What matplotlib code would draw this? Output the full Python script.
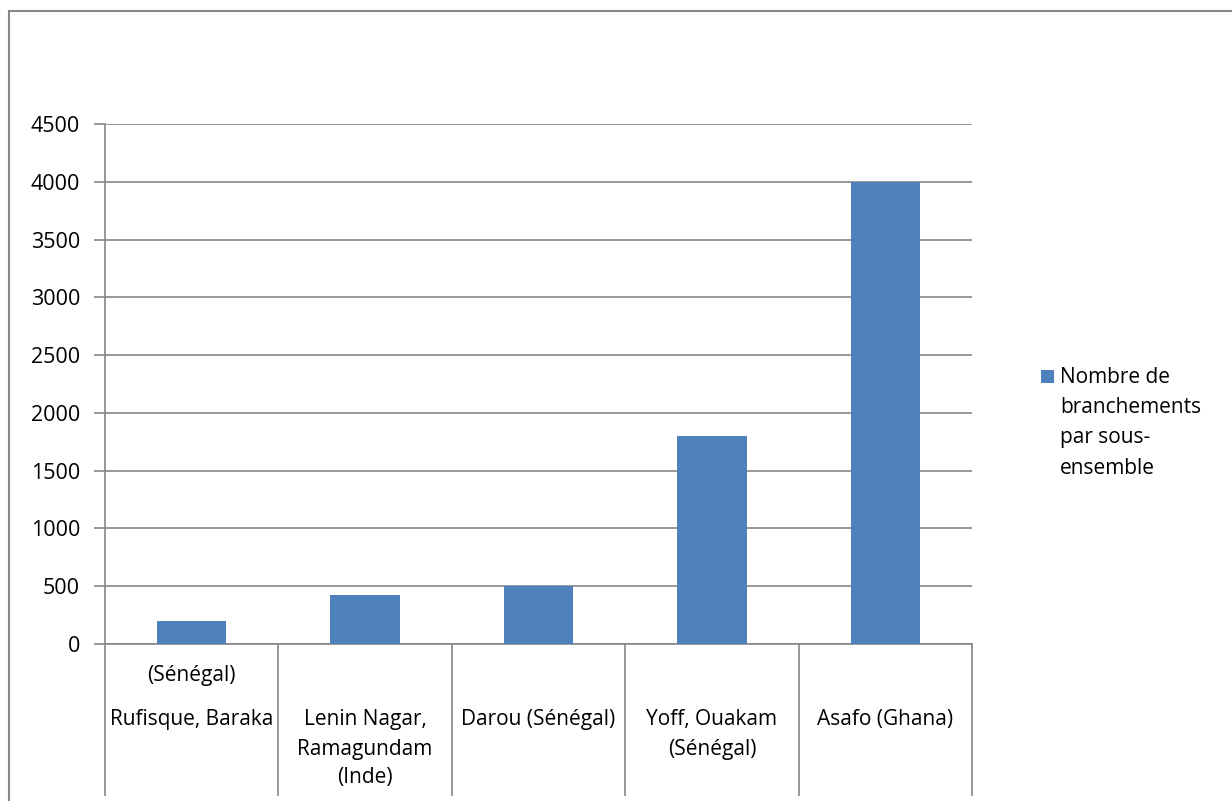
import matplotlib.pyplot as plt
from matplotlib.patches import Rectangle
import matplotlib.transforms as mtransforms

plt.rcParams["font.family"] = ["Open Sans", "DejaVu Sans"]

# data
categories = [
    ["Rufisque, Baraka", "(Sénégal)"],
    ["Lenin Nagar,", "Ramagundam", "(Inde)"],
    ["Darou (Sénégal)"],
    ["Yoff, Ouakam", "(Sénégal)"],
    ["Asafo (Ghana)"],
]
values = [200, 420, 500, 1800, 4000]
yticks = [0, 500, 1000, 1500, 2000, 2500, 3000, 3500, 4000, 4500]
series_name = ["Nombre de", "branchements", "par sous-", "ensemble"]

bar_color = "#4F81BD"
grid_color = "#868686"
W, H = 1232, 801
fs = 15

fig = plt.figure(figsize=(W / 100, H / 100), dpi=100)
ax = fig.add_axes([105 / W, 1 - 644 / H, (972 - 105) / W, (644 - 124) / H])

n = len(values)
xs = [i + 0.5 for i in range(n)]
ax.bar(xs, values, width=0.4, color=bar_color, zorder=3)

ax.set_xlim(0, n)
ax.set_ylim(0, 4500)
ax.set_yticks(yticks)
ax.set_yticklabels([str(v) for v in yticks], fontsize=15.5)
ax.yaxis.grid(True, color=grid_color, linewidth=1.2)
ax.set_axisbelow(True)
ax.tick_params(axis="y", length=8, width=1.2, color=grid_color, pad=10)
ax.set_xticks([])
for s in ["top", "right"]:
    ax.spines[s].set_visible(False)
for s in ["left", "bottom"]:
    ax.spines[s].set_color(grid_color)
    ax.spines[s].set_linewidth(1.2)

# category separators, extending down through the label area
trans = mtransforms.blended_transform_factory(ax.transData, ax.transAxes)
px = 1 / (644 - 124)  # one pixel in axes fraction (vertical)
for i in range(n + 1):
    ax.plot([i, i], [0, -151 * px], color=grid_color, linewidth=1.2,
            transform=trans, clip_on=False)

# category labels
line_gap = 29
for i, lines in enumerate(categories):
    if i == 0:
        # first label wraps oddly: second line drawn above the first
        offsets = [0, -44]
    else:
        offsets = [k * line_gap for k in range(len(lines))]
    for txt, off in zip(lines, offsets):
        ax.text(xs[i], -(720 - 644 + off) * px, txt, transform=trans,
                ha="center", va="center", fontsize=fs, color="black")

# legend
fig.patches.append(Rectangle((1041 / W, 1 - 383 / H), 13 / W, 13 / H,
                             transform=fig.transFigure, facecolor=bar_color,
                             edgecolor="none"))
for k, txt in enumerate(series_name):
    fig.text(1060 / W, 1 - (377 + k * 30.5) / H, txt, fontsize=fs,
             ha="left", va="center")

# outer chart border
fig.patches.append(Rectangle((9 / W, -0.1), 1.2, 1 - 11 / H + 0.1,
                             transform=fig.transFigure, fill=False,
                             edgecolor=grid_color, linewidth=1.5))

fig.savefig("out.png", dpi=100)
